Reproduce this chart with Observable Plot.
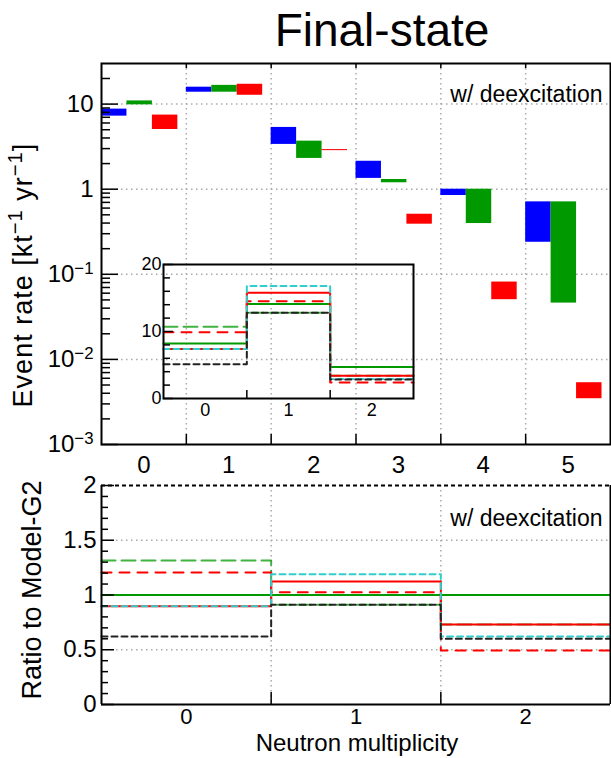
<!DOCTYPE html>
<html><head><meta charset="utf-8">
<script src="https://cdn.jsdelivr.net/npm/d3@7"></script>
<script src="https://cdn.jsdelivr.net/npm/@observablehq/plot@0.6"></script>
<style>
body{margin:0;background:#fff;}
#wrap{position:relative;width:611px;height:758px;overflow:hidden;font-family:"Liberation Sans",Arial,Helvetica,sans-serif;color:#000;background:#fff;}
#wrap svg{position:absolute;left:0;overflow:visible;}
.lbl{position:absolute;white-space:nowrap;line-height:1;}
.sup{font-size:0.75em;position:relative;top:-0.5em;}
</style></head><body><div id="wrap"></div>
<script>
// ---------- data ----------
const multiplicity = [0, 1, 2, 3, 4, 5];
const blueLow   = [7.22, 13.8, 3.36, 1.34, 0.843, 0.238];
const blueHigh  = [8.73, 15.8, 5.32, 2.13, 1.0, 0.71];
const greenLow  = [9.8, 13.8, 2.30, 1.19, 0.395, 0.0459];
const greenHigh = [10.9, 16.6, 3.67, 1.30, 1.0, 0.71];
const redLow    = [5.03, 12.7, 2.84, 0.388, 0.0503, 0.00345];
const redHigh   = [7.43, 17.1, 2.92, 0.508, 0.0811, 0.00532];

const insetMultiplicity = [0, 1, 2];
const insetGreenSolid  = [8.2, 14.1, 4.7];
const insetGreenDashed = [10.7, 12.8, 3.4];
const insetRedSolid    = [7.4, 15.8, 3.4];
const insetRedDashed   = [9.9, 14.5, 2.4];
const insetCyanDashed  = [7.4, 16.8, 2.9];
const insetBlackDashed = [5.1, 12.8, 2.85];

const ratioGreenSolid  = [1.0, 1.0, 1.0];
const ratioGreenDashed = [1.315, 0.91, 0.73];
const ratioRedSolid    = [0.898, 1.123, 0.73];
const ratioRedDashed   = [1.205, 1.025, 0.493];
const ratioCyanDashed  = [0.898, 1.19, 0.62];
const ratioBlackDashed = [0.62, 0.91, 0.60];

const rateTickValues = [0.001, 0.01, 0.1, 1, 10];
const rateTickLabels = ["10^-3", "10^-2", "10^-1", "1", "10"];
const insetTickValues = [0, 10, 20];
const ratioTickValues = [0, 0.5, 1, 1.5, 2];
const ratioTickLabels = ["0", "0.5", "1", "1.5", "2"];

// ---------- helpers ----------
const FONT = '"Liberation Sans", Arial, Helvetica, sans-serif';
const GREEN = "#009900", RED = "#ff0000", BLUE = "#0000ff", CYAN = "#33cccc";
const gridStyle = {stroke: "#aaa", strokeOpacity: 1, strokeWidth: 1.5, strokeDasharray: "1.5,3.5"};
const edgesOf = bins => bins.slice(0, -1).map(b => b + 0.5);
function steps(bins, values) {
  const pts = bins.map((b, i) => ({x: b - 0.5, y: values[i]}));
  pts.push({x: bins[bins.length - 1] + 0.5, y: values[values.length - 1]});
  return pts;
}
function superscriptify(svg) {
  d3.select(svg).selectAll("text").each(function () {
    const m = /^(.*)\^(.*)$/.exec(this.textContent);
    if (!m) return;
    const sel = d3.select(this);
    sel.text(null);
    sel.append("tspan").text(m[1]);
    sel.append("tspan").attr("dy", "-0.5em").style("font-size", "70%").text(m[2].replace("-", "\u2212"));
  });
}
const wrap = document.getElementById("wrap");

// ---------- top panel ----------
const xTopDomain = [multiplicity[0] - 0.5, multiplicity[multiplicity.length - 1] + 0.5];
const rateDomain = [0.001, 30];
const rateMinor = [];
for (let e = -3; e <= 1; e++) for (let k = 2; k <= 9; k++) { const v = k * Math.pow(10, e); if (v < rateDomain[1]) rateMinor.push(v); }
const seriesDefs = [
  {low: blueLow, high: blueHigh, color: BLUE, slot: 0},
  {low: greenLow, high: greenHigh, color: GREEN, slot: 1},
  {low: redLow, high: redHigh, color: RED, slot: 2}
];
const barRows = seriesDefs.flatMap(s => multiplicity.map((m, i) => ({m, slot: s.slot, lo: s.low[i], hi: s.high[i], color: s.color})));
const rateLabel = new Map(rateTickValues.map((v, i) => [v, rateTickLabels[i]]));

const topPlot = Plot.plot({
  width: 611, height: 475,
  marginLeft: 101, marginRight: 1, marginTop: 63, marginBottom: 31,
  style: {fontFamily: FONT, fontSize: "23px", background: "transparent", color: "black", overflow: "visible"},
  x: {domain: xTopDomain},
  y: {type: "log", domain: rateDomain},
  marks: [
    Plot.gridX(edgesOf(multiplicity), gridStyle),
    Plot.gridY(rateTickValues.slice(1), gridStyle),
    Plot.rect(barRows, {x1: d => d.m - 0.5 + 0.3 * d.slot, x2: d => d.m - 0.2 + 0.3 * d.slot, y1: "lo", y2: "hi", fill: d => d.color}),
    Plot.axisY({ticks: rateTickValues, tickSize: 17, dx: 17, tickFormat: () => "", strokeWidth: 1.5, label: null}),
    Plot.axisY({ticks: rateMinor, tickSize: 9, dx: 9, tickFormat: () => "", strokeWidth: 1.5, label: null}),
    Plot.axisY({ticks: rateTickValues, tickSize: 0, tickPadding: 8, tickFormat: d => rateLabel.get(d), fontSize: 24, label: null}),
    Plot.axisX({ticks: edgesOf(multiplicity), tickSize: 10, dy: -10, tickFormat: () => "", strokeWidth: 1.5, label: null}),
    Plot.axisX({ticks: edgesOf(multiplicity), anchor: "top", tickSize: 4, dy: 4, tickFormat: () => "", strokeWidth: 1.5, label: null}),
    Plot.axisX({ticks: multiplicity, tickSize: 0, tickPadding: 11, tickFormat: d => String(d), fontSize: 24, label: null}),
    Plot.text(["w/ deexcitation"], {text: d => d, frameAnchor: "top-right", textAnchor: "end", lineAnchor: "top", dx: -8, dy: 21.7, fontSize: 23}),
    Plot.frame({stroke: "black", strokeWidth: 2})
  ]
});
topPlot.style.top = "0px";
superscriptify(topPlot);
wrap.appendChild(topPlot);

// ---------- inset ----------
const xInsetDomain = [insetMultiplicity[0] - 0.5, insetMultiplicity[insetMultiplicity.length - 1] + 0.5];
const insetMinor = d3.range(0, 20.001, 2).filter(v => v % 10 !== 0);
const insetPlot = Plot.plot({
  width: 611, height: 475,
  marginLeft: 163, marginRight: 198, marginTop: 264, marginBottom: 77,
  style: {fontFamily: FONT, fontSize: "18px", background: "transparent", color: "black", overflow: "visible"},
  x: {domain: xInsetDomain},
  y: {domain: [insetTickValues[0], insetTickValues[insetTickValues.length - 1]]},
  marks: [
    Plot.line(steps(insetMultiplicity, insetGreenSolid), {x: "x", y: "y", curve: "step-after", stroke: GREEN, strokeWidth: 2}),
    Plot.line(steps(insetMultiplicity, insetGreenDashed), {x: "x", y: "y", curve: "step-after", stroke: GREEN, strokeWidth: 2, strokeDasharray: "14,6", strokeOpacity: 0.75}),
    Plot.line(steps(insetMultiplicity, insetRedSolid), {x: "x", y: "y", curve: "step-after", stroke: RED, strokeWidth: 2}),
    Plot.line(steps(insetMultiplicity, insetRedDashed), {x: "x", y: "y", curve: "step-after", stroke: RED, strokeWidth: 2, strokeDasharray: "10,8"}),
    Plot.line(steps(insetMultiplicity, insetCyanDashed), {x: "x", y: "y", curve: "step-after", stroke: CYAN, strokeWidth: 2, strokeDasharray: "6,4"}),
    Plot.line(steps(insetMultiplicity, insetBlackDashed), {x: "x", y: "y", curve: "step-after", stroke: "#222", strokeWidth: 2, strokeDasharray: "6,4"}),
    Plot.axisY({ticks: insetTickValues, tickSize: 10, dx: 10, tickFormat: () => "", strokeWidth: 1.5, label: null}),
    Plot.axisY({ticks: insetMinor, tickSize: 7, dx: 7, tickFormat: () => "", strokeWidth: 1.5, label: null}),
    Plot.axisY({ticks: insetTickValues, tickSize: 0, tickPadding: 2, tickFormat: d => String(d), fontSize: 18, label: null}),
    Plot.axisX({ticks: edgesOf(insetMultiplicity), tickSize: 8, dy: -8, tickFormat: () => "", strokeWidth: 1.5, label: null}),
    Plot.axisX({ticks: insetMultiplicity, tickSize: 0, tickPadding: 5, tickFormat: d => String(d), fontSize: 18, label: null}),
    Plot.frame({stroke: "black", strokeWidth: 2})
  ]
});
insetPlot.style.top = "0px";
wrap.appendChild(insetPlot);

// ---------- ratio panel ----------
const ratioDomain = [ratioTickValues[0], ratioTickValues[ratioTickValues.length - 1]];
const ratioMinor = d3.range(0, 2.001, 0.1).map(v => Math.round(v * 10) / 10).filter(v => Math.round(v * 10) % 5 !== 0);
const ratioLabel = new Map(ratioTickValues.map((v, i) => [v, ratioTickLabels[i]]));
const bottomPlot = Plot.plot({
  width: 611, height: 283,
  marginLeft: 101, marginRight: 1, marginTop: 10, marginBottom: 54,
  style: {fontFamily: FONT, fontSize: "23px", background: "transparent", color: "black", overflow: "visible"},
  x: {domain: xInsetDomain},
  y: {domain: ratioDomain},
  marks: [
    Plot.gridX(edgesOf(insetMultiplicity), gridStyle),
    Plot.gridY([0.5, 1, 1.5], gridStyle),
    Plot.line(steps(insetMultiplicity, ratioGreenDashed), {x: "x", y: "y", curve: "step-after", stroke: GREEN, strokeWidth: 2, strokeDasharray: "14,6", strokeOpacity: 0.75}),
    Plot.line(steps(insetMultiplicity, ratioRedSolid), {x: "x", y: "y", curve: "step-after", stroke: RED, strokeWidth: 2}),
    Plot.line(steps(insetMultiplicity, ratioGreenSolid), {x: "x", y: "y", curve: "step-after", stroke: GREEN, strokeWidth: 2}),
    Plot.line(steps(insetMultiplicity, ratioRedDashed), {x: "x", y: "y", curve: "step-after", stroke: RED, strokeWidth: 2, strokeDasharray: "10,8"}),
    Plot.line(steps(insetMultiplicity, ratioCyanDashed), {x: "x", y: "y", curve: "step-after", stroke: CYAN, strokeWidth: 2, strokeDasharray: "6,4"}),
    Plot.line(steps(insetMultiplicity, ratioBlackDashed), {x: "x", y: "y", curve: "step-after", stroke: "#222", strokeWidth: 2, strokeDasharray: "6,4"}),
    Plot.axisY({ticks: ratioTickValues, tickSize: 13, dx: 13, tickFormat: () => "", strokeWidth: 1.5, label: null}),
    Plot.axisY({ticks: ratioMinor, tickSize: 7, dx: 7, tickFormat: () => "", strokeWidth: 1.5, label: null}),
    Plot.axisY({ticks: ratioTickValues, tickSize: 0, tickPadding: 5, tickFormat: d => ratioLabel.get(d), fontSize: 24, label: null}),
    Plot.axisX({ticks: edgesOf(insetMultiplicity), tickSize: 12, dy: -12, tickFormat: () => "", strokeWidth: 1.5, label: null}),
    Plot.axisX({ticks: insetMultiplicity, tickSize: 0, tickPadding: 4, tickFormat: d => String(d), fontSize: 22, label: null}),
    Plot.text(["w/ deexcitation"], {text: d => d, frameAnchor: "top-right", textAnchor: "end", lineAnchor: "top", dx: -8, dy: 23.7, fontSize: 23}),
    Plot.ruleY([ratioDomain[1]], {stroke: "black", strokeWidth: 2, strokeDasharray: "4,3"}),
    Plot.ruleY([ratioDomain[0]], {stroke: "black", strokeWidth: 2}),
    Plot.ruleX(xInsetDomain, {stroke: "black", strokeWidth: 2})
  ]
});
bottomPlot.style.top = "475px";
wrap.appendChild(bottomPlot);

// ---------- titles ----------
function addLabel(html, css) {
  const d = document.createElement("div");
  d.className = "lbl";
  d.innerHTML = html;
  Object.assign(d.style, css);
  wrap.appendChild(d);
}
addLabel("Final-state", {left: "382px", top: "7px", fontSize: "46px", transform: "translateX(-50%)"});
addLabel('Event rate [kt<span class="sup">\u22121</span> yr<span class="sup">\u22121</span>]',
  {left: "23px", top: "275px", fontSize: "27px", letterSpacing: "1px", transform: "translate(-50%,-50%) rotate(-90deg)"});
addLabel("Ratio to Model-G2", {left: "32px", top: "590px", fontSize: "27px", transform: "translate(-50%,-50%) rotate(-90deg)"});
addLabel("Neutron multiplicity", {left: "357px", top: "731px", fontSize: "24px", transform: "translateX(-50%)"});
</script></body></html>
